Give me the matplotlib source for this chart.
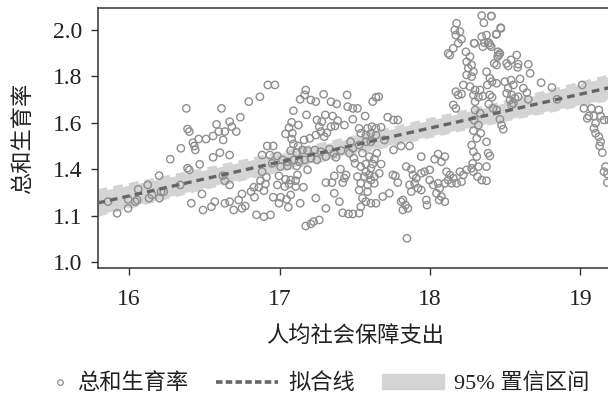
import numpy as np
import matplotlib
matplotlib.use('Agg')
import matplotlib.pyplot as plt
from matplotlib.lines import Line2D
from matplotlib.patches import Patch

plt.rcParams['font.family'] = ['Liberation Serif', 'Noto Sans CJK SC']
plt.rcParams['axes.unicode_minus'] = False

# 散点数据 (人均社会保障支出, 总和生育率) —— 按区域读图
pts_low = [
    (16.380, 1.662), (16.614, 1.662), (16.581, 1.593), (16.388, 1.573), (16.400, 1.562),
    (16.596, 1.562), (16.636, 1.562), (16.462, 1.530), (16.511, 1.530), (16.558, 1.543),
    (16.424, 1.514), (16.433, 1.500), (16.440, 1.483), (16.344, 1.490), (16.625, 1.526),
    (16.603, 1.471), (16.558, 1.451), (16.273, 1.443), (16.388, 1.404), (16.400, 1.397),
    (16.469, 1.421), (16.199, 1.372), (16.123, 1.332), (16.060, 1.313), (16.340, 1.332),
    (16.212, 1.303), (16.152, 1.289), (16.132, 1.275), (16.053, 1.267), (15.993, 1.270),
    (15.859, 1.260), (16.201, 1.275), (15.920, 1.210), (15.993, 1.231), (16.484, 1.293),
    (16.413, 1.253), (16.491, 1.224), (16.547, 1.238), (16.569, 1.260), (16.636, 1.253),
    (16.623, 1.372), (16.636, 1.350), (16.230, 1.303), (16.040, 1.260),
]

pts_mid = [
    (16.922, 1.763), (16.969, 1.763), (16.795, 1.691), (16.869, 1.712), (17.174, 1.741),
    (17.167, 1.720), (17.293, 1.723), (17.137, 1.701), (17.208, 1.698), (17.241, 1.691),
    (17.449, 1.720), (17.342, 1.691), (17.380, 1.681), (17.453, 1.669), (17.487, 1.662),
    (17.092, 1.652), (16.739, 1.624), (16.668, 1.605), (16.683, 1.583), (16.712, 1.562),
    (17.179, 1.634), (17.304, 1.634), (17.353, 1.629), (17.248, 1.612), (17.281, 1.605),
    (17.386, 1.609), (17.431, 1.590), (17.487, 1.615), (17.080, 1.602), (17.125, 1.590),
    (17.063, 1.579), (17.264, 1.583), (17.275, 1.562), (17.315, 1.557), (17.297, 1.540),
    (17.342, 1.583), (17.368, 1.586), (17.040, 1.552), (17.085, 1.555), (17.080, 1.530),
    (17.163, 1.526), (17.201, 1.533), (17.241, 1.547), (17.092, 1.509), (17.123, 1.500),
    (16.918, 1.500), (16.958, 1.500), (16.668, 1.461), (16.884, 1.461), (16.936, 1.461),
    (16.985, 1.457), (17.074, 1.480), (17.114, 1.471), (17.152, 1.483), (17.186, 1.480),
    (17.234, 1.483), (17.275, 1.475), (17.331, 1.486), (17.360, 1.469), (17.409, 1.480),
    (17.472, 1.518), (17.487, 1.490), (17.465, 1.469), (17.494, 1.447), (17.502, 1.425),
    (17.018, 1.440), (17.052, 1.432), (17.096, 1.440), (17.130, 1.432), (17.167, 1.440),
    (17.208, 1.447), (17.248, 1.440), (17.308, 1.454), (17.375, 1.451), (16.951, 1.425),
    (17.007, 1.411), (17.052, 1.414), (17.114, 1.414), (17.186, 1.397), (17.119, 1.375),
    (17.405, 1.400), (17.442, 1.375), (17.364, 1.371), (17.431, 1.361), (16.884, 1.389),
    (16.913, 1.365), (16.873, 1.350), (16.906, 1.336), (16.996, 1.371), (17.040, 1.356),
    (17.074, 1.353), (17.107, 1.350), (17.063, 1.336), (17.034, 1.325), (17.107, 1.325),
    (17.159, 1.322), (16.985, 1.332), (17.308, 1.342), (17.348, 1.342), (17.420, 1.342),
    (16.668, 1.332), (16.829, 1.322), (16.862, 1.322), (16.896, 1.307), (16.810, 1.303),
    (16.833, 1.279), (16.750, 1.293), (16.728, 1.267), (16.668, 1.260), (16.958, 1.279),
    (17.007, 1.279), (17.047, 1.270), (17.074, 1.289), (16.996, 1.253), (17.058, 1.236),
    (17.137, 1.253), (17.241, 1.275), (17.364, 1.296), (17.398, 1.260), (17.308, 1.231),
    (16.695, 1.224), (16.750, 1.231), (16.772, 1.241), (16.846, 1.203), (16.896, 1.195),
    (16.940, 1.203), (17.420, 1.212), (17.458, 1.207), (17.487, 1.207), (17.174, 1.155),
    (17.208, 1.164), (17.264, 1.181), (17.226, 1.174),
]

pts_high = [
    (17.847, 1.102),
    (18.177, 2.029), (18.165, 2.000), (18.199, 1.993), (18.172, 1.978), (18.210, 1.960),
    (18.188, 1.943), (18.155, 1.921), (18.132, 1.892), (18.121, 1.899),
    (18.239, 1.906), (18.266, 1.885), (18.244, 1.863), (18.277, 1.849), (18.255, 1.835),
    (18.289, 1.820), (18.244, 1.806), (18.277, 1.799),
    (18.293, 1.943), (18.344, 1.971), (18.351, 1.928),
    (18.222, 1.763), (18.266, 1.756), (18.300, 1.741), (18.289, 1.720), (18.322, 1.710),
    (18.300, 1.691), (18.172, 1.734), (18.188, 1.720), (18.210, 1.724), (18.333, 1.741),
    (18.351, 1.715), (18.155, 1.677), (18.172, 1.662), (18.300, 1.655), (18.333, 1.641),
    (18.293, 1.612), (18.322, 1.590), (18.289, 1.566), (18.338, 1.555), (18.311, 1.533),
    (18.277, 1.504), (18.289, 1.475), (18.311, 1.454), (18.284, 1.425), (18.322, 1.411),
    (18.289, 1.389), (18.316, 1.368), (18.344, 1.353),
    (17.641, 1.710), (17.659, 1.712), (17.619, 1.691), (17.518, 1.662), (17.569, 1.629),
    (17.719, 1.624), (17.757, 1.612), (17.786, 1.612),
    (17.529, 1.576), (17.585, 1.576), (17.614, 1.583), (17.641, 1.576), (17.675, 1.581),
    (17.540, 1.555), (17.574, 1.547), (17.607, 1.555), (17.641, 1.547),
    (17.697, 1.526), (17.808, 1.500), (17.864, 1.500), (17.529, 1.504), (17.574, 1.518),
    (17.607, 1.518), (17.757, 1.483), (17.942, 1.454),
    (18.054, 1.465), (18.031, 1.443), (18.099, 1.454), (18.076, 1.432),
    (17.551, 1.469), (17.596, 1.454), (17.630, 1.443), (17.646, 1.469), (17.675, 1.422),
    (17.619, 1.422), (17.574, 1.422), (17.540, 1.411), (17.607, 1.404), (17.574, 1.389),
    (17.596, 1.375), (17.630, 1.368), (17.562, 1.368), (17.607, 1.353), (17.585, 1.332),
    (17.630, 1.339), (17.663, 1.382),
    (17.518, 1.368), (17.540, 1.339), (17.529, 1.310),
    (17.753, 1.375), (17.770, 1.371), (17.842, 1.411), (17.876, 1.400), (17.786, 1.342),
    (17.887, 1.375), (17.909, 1.361), (17.942, 1.382), (17.964, 1.389), (17.998, 1.397),
    (17.864, 1.332), (17.898, 1.339), (17.920, 1.318), (17.876, 1.303), (17.942, 1.310),
    (17.998, 1.353), (18.021, 1.332), (18.054, 1.339), (18.065, 1.318), (18.043, 1.296),
    (18.076, 1.282), (18.099, 1.260), (18.061, 1.267),
    (17.976, 1.267), (17.980, 1.245),
    (17.820, 1.267), (17.837, 1.245), (17.853, 1.231), (17.820, 1.224), (17.808, 1.260),
    (18.110, 1.389), (18.132, 1.375), (18.121, 1.353), (18.155, 1.361), (18.099, 1.339),
    (18.143, 1.339), (18.177, 1.339), (18.210, 1.346), (18.222, 1.375), (18.199, 1.389),
    (18.244, 1.397), (18.277, 1.404),
    (17.730, 1.296), (17.686, 1.282), (17.641, 1.253), (17.607, 1.253), (17.574, 1.260),
    (17.540, 1.238), (17.529, 1.210), (17.551, 1.275), (17.585, 1.303),
]

pts_top = [
    (18.344, 2.062), (18.407, 2.060), (18.358, 2.031), (18.470, 2.010), (18.440, 1.980),
    (18.296, 1.943), (18.362, 1.945), (18.391, 1.945), (18.407, 1.928),
    (18.409, 2.060), (18.472, 2.007), (18.443, 1.983), (18.376, 1.978), (18.387, 1.943),
    (18.398, 1.935), (18.453, 1.906), (18.458, 1.892), (18.450, 1.885), (18.465, 1.899),
    (18.577, 1.892), (18.539, 1.871), (18.510, 1.856), (18.520, 1.845),
    (18.587, 1.853), (18.583, 1.839), (18.654, 1.852), (18.666, 1.813),
    (18.427, 1.856), (18.443, 1.849),
    (18.376, 1.820), (18.398, 1.792), (18.413, 1.777), (18.443, 1.770), (18.382, 1.763),
    (18.498, 1.777), (18.539, 1.784), (18.554, 1.763), (18.520, 1.749), (18.510, 1.727),
    (18.543, 1.720), (18.565, 1.706), (18.532, 1.698), (18.587, 1.712),
    (18.599, 1.789), (18.621, 1.749), (18.644, 1.730), (18.654, 1.701),
    (18.739, 1.773), (18.811, 1.752), (19.012, 1.763),
    (18.398, 1.720), (18.413, 1.710), (18.391, 1.681), (18.420, 1.662), (18.443, 1.655),
    (18.543, 1.677), (18.554, 1.684), (18.845, 1.701),
    (18.465, 1.615), (18.476, 1.590), (18.487, 1.572),
    (19.023, 1.662), (19.074, 1.662), (19.123, 1.655), (19.056, 1.629), (19.046, 1.619),
    (19.090, 1.629), (19.135, 1.629), (19.101, 1.598), (19.157, 1.612), (19.190, 1.612),
    (19.090, 1.576), (19.101, 1.555), (19.123, 1.540), (19.135, 1.518), (19.128, 1.500),
    (19.146, 1.471), (19.168, 1.411), (19.157, 1.389), (19.180, 1.379), (19.180, 1.342),
    (18.376, 1.518), (18.387, 1.469), (18.398, 1.457), (18.376, 1.411), (18.376, 1.350),
]

# 拟合线与95%置信区间
fit_x = [15.79, 19.21]
fit_y = [1.254, 1.754]
ci_x = [15.79, 16.5, 17.5, 18.5, 19.21]
ci_lo = [1.204, 1.320, 1.472, 1.614, 1.706]
ci_hi = [1.304, 1.396, 1.536, 1.686, 1.802]

ytick_pos = [1.0, 1.2, 1.4, 1.6, 1.8, 2.0]
ytick_labels = ['1.0', '1.1', '1.4', '1.6', '1.8', '2.0']
xtick_pos = [16, 17, 18, 19]

alle = pts_low + pts_mid + pts_high + pts_top
xs = np.array([p[0] for p in alle])
ys = np.array([p[1] for p in alle])

band_col = '#d4d4d4'
line_col = '#666666'
dot_col = '#8e8e8e'

fig = plt.figure(figsize=(6.08, 3.97), dpi=100)
ax = fig.add_axes([0.161, 0.325, 0.845, 0.655])

ax.fill_between(ci_x, ci_lo, ci_hi, color=band_col, linewidth=0, zorder=1)
ax.plot(ci_x, ci_lo, color=band_col, lw=3.2, dashes=(2.2, 1.4), zorder=1)
ax.plot(ci_x, ci_hi, color=band_col, lw=3.2, dashes=(2.2, 1.4), zorder=1)
ax.scatter(xs, ys, s=28, facecolors='none', edgecolors=dot_col, linewidths=1.0, zorder=2)
ax.plot(fit_x, fit_y, color=line_col, lw=2.4, dashes=(2.3, 1.5), zorder=3)

ax.set_xlim(15.792, 19.208)
ax.set_ylim(0.974, 2.095)
ax.set_xticks(xtick_pos)
ax.set_xticklabels([str(v) for v in xtick_pos])
ax.set_yticks(ytick_pos)
ax.set_yticklabels(ytick_labels)
ax.tick_params(axis='both', direction='out', length=5, width=1.0, colors='#333333',
               labelsize=17, labelcolor='#222222')
ax.tick_params(axis='x', pad=10)
ax.tick_params(axis='y', pad=6)
for s in ['left', 'bottom', 'top']:
    ax.spines[s].set_color('#333333')
    ax.spines[s].set_linewidth(1.1)
ax.spines['right'].set_visible(False)

ax.set_xlabel('人均社会保障支出', fontsize=16, labelpad=12, color='#222222')
ax.set_ylabel('总和生育率', fontsize=16, labelpad=14, color='#222222')

# Legende: drei Einträge einzeln platziert
leg_items = [
    (Line2D([], [], marker='o', ls='none', markersize=4, markerfacecolor='none',
            markeredgecolor=dot_col, markeredgewidth=0.9), '总和生育率', 0.6, 0.088),
    (Line2D([], [], color=line_col, lw=2.6, dashes=(1.8, 0.9)), '拟合线', 2.8, 0.355),
    (Patch(facecolor=band_col, edgecolor=band_col), '95% 置信区间', 2.8, 0.628),
]
for h, lab, hl, xpos in leg_items:
    lg = fig.legend([h], [lab], loc='center left', bbox_to_anchor=(xpos, 0.033),
                    frameon=False, fontsize=16, handlelength=hl, handletextpad=0.45,
                    borderpad=0, borderaxespad=0, labelcolor='#222222')

fig.savefig('out.png', dpi=100)
